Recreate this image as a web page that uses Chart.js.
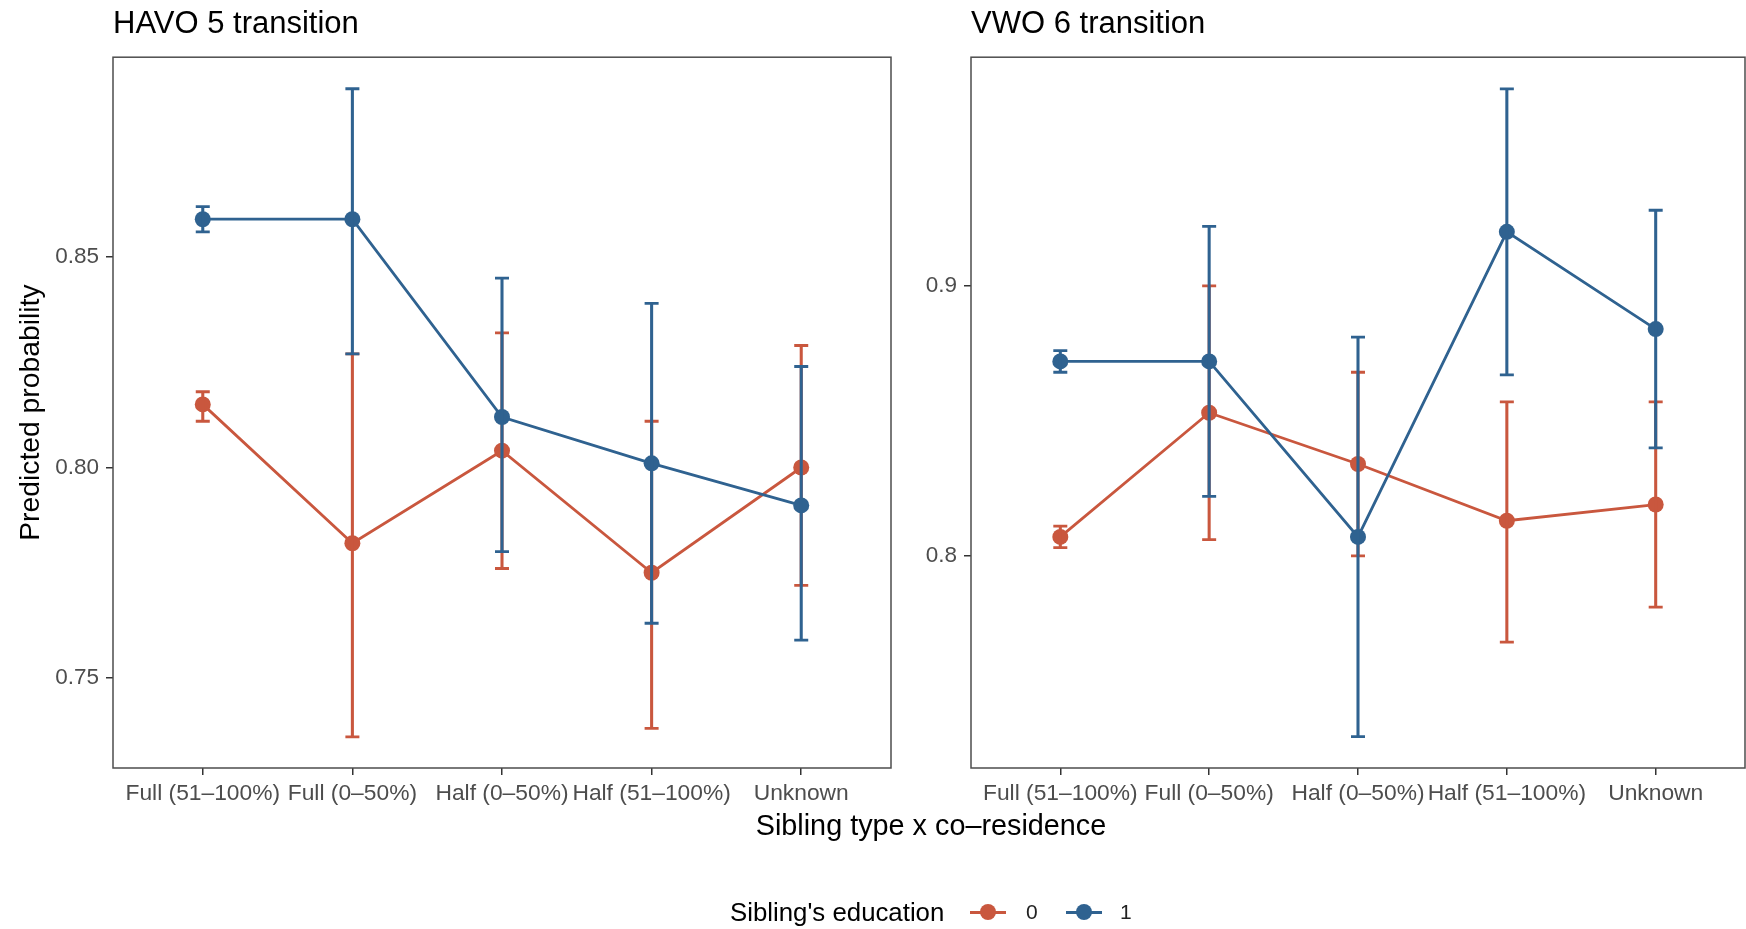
<!DOCTYPE html>
<html>
<head>
<meta charset="utf-8">
<script src="https://cdn.jsdelivr.net/npm/chart.js@4.4.1/dist/chart.umd.min.js"></script>
<style>
  html, body { margin:0; padding:0; background:#fff; }
  body { width:1746px; height:929px; overflow:hidden; position:relative; font-family:"Liberation Sans", Arial, sans-serif; }
  canvas { position:absolute; top:0; }
  #cLeft { left:0; }
  #cRight { left:900px; }
  .txt { position:absolute; white-space:nowrap; color:#000; }
  #xTitle { left:0; width:1862px; text-align:center; top:808px; font-size:28.8px; line-height:34px; }
  #legTitle { left:730px; top:897px; font-size:25.8px; line-height:30px; }
  .legLab { top:899px; font-size:21px; line-height:26px; color:#222; }
  .mark { position:absolute; width:36px; height:16px; top:904px; }
  .mark .ln { position:absolute; left:0; right:0; top:7px; height:2.6px; }
  .mark .pt { position:absolute; left:10px; top:0; width:16px; height:16px; border-radius:50%; }
</style>
</head>
<body>
<canvas id="cLeft" width="900" height="929"></canvas>
<canvas id="cRight" width="846" height="929"></canvas>
<div class="txt" id="xTitle">Sibling type x co–residence</div>
<div class="txt" id="legTitle">Sibling's education</div>
<div class="mark" style="left:970px"><div class="ln" style="background:#C9573E"></div><div class="pt" style="background:#C9573E"></div></div>
<div class="txt legLab" style="left:1026px">0</div>
<div class="mark" style="left:1066px"><div class="ln" style="background:#2F6290"></div><div class="pt" style="background:#2F6290"></div></div>
<div class="txt legLab" style="left:1120px">1</div>
<script>
// ---------- DATA ----------
const categories = ['Full (51–100%)', 'Full (0–50%)', 'Half (0–50%)', 'Half (51–100%)', 'Unknown'];
const seriesNames = ['0', '1'];

// HAVO 5 transition
const havoEdu0   = [0.815, 0.782, 0.804, 0.775, 0.800];
const havoEdu0Lo = [0.811, 0.736, 0.776, 0.738, 0.772];
const havoEdu0Hi = [0.818, 0.827, 0.832, 0.811, 0.829];
const havoEdu1   = [0.859, 0.859, 0.812, 0.801, 0.791];
const havoEdu1Lo = [0.856, 0.827, 0.780, 0.763, 0.759];
const havoEdu1Hi = [0.862, 0.890, 0.845, 0.839, 0.824];
const havoYTicks = [0.75, 0.80, 0.85];
const havoYRange = [0.7286, 0.8975];

// VWO 6 transition
const vwoEdu0   = [0.807, 0.853, 0.834, 0.813, 0.819];
const vwoEdu0Lo = [0.803, 0.806, 0.800, 0.768, 0.781];
const vwoEdu0Hi = [0.811, 0.900, 0.868, 0.857, 0.857];
const vwoEdu1   = [0.872, 0.872, 0.807, 0.920, 0.884];
const vwoEdu1Lo = [0.868, 0.822, 0.733, 0.867, 0.840];
const vwoEdu1Hi = [0.876, 0.922, 0.881, 0.973, 0.928];
const vwoYTicks = [0.8, 0.9];
const vwoYRange = [0.7214, 0.9847];

// ---------- STYLE ----------
const RED = '#C9573E';
const BLUE = '#2F6290';
Chart.defaults.font.family = '"Liberation Sans", Arial, sans-serif';

const panelBorder = {
  id: 'panelBorder',
  afterDatasetsDraw(chart) {
    const {ctx, chartArea: {left, top, right, bottom}} = chart;
    ctx.save();
    ctx.strokeStyle = '#4d4d4d';
    ctx.lineWidth = 1.5;
    ctx.strokeRect(left, top, right - left, bottom - top);
    ctx.restore();
  }
};

function seriesSets(vals, lo, hi, color, base) {
  const pts = arr => arr.map((v, i) => ({x: i, y: v}));
  return [
    { type: 'line', data: pts(vals), borderColor: color, backgroundColor: color,
      borderWidth: 2.8, pointRadius: 8, pointBorderWidth: 0, pointBackgroundColor: color,
      tension: 0, order: base + 3 },
    { type: 'bar', data: lo.map((l, i) => ({x: i, y: [l, hi[i]]})), backgroundColor: color,
      barThickness: 2.4, grouped: false, borderWidth: 0, order: base + 1 },
    { type: 'line', data: pts(lo), showLine: false, pointStyle: 'line', pointRadius: 7,
      pointBorderWidth: 2.8, pointBorderColor: color, borderColor: color, order: base },
    { type: 'line', data: pts(hi), showLine: false, pointStyle: 'line', pointRadius: 7,
      pointBorderWidth: 2.8, pointBorderColor: color, borderColor: color, order: base }
  ];
}

function makePanel(id, title, s0, s1, yRange, yTicks, decimals, yAxisWidth, padRight, showYTitle) {
  const datasets = [
    ...seriesSets(s0[0], s0[1], s0[2], RED, 10),
    ...seriesSets(s1[0], s1[1], s1[2], BLUE, 0)
  ];
  return new Chart(document.getElementById(id), {
    type: 'line',
    data: { datasets },
    plugins: [panelBorder],
    options: {
      responsive: false,
      animation: false,
      events: [],
      layout: { autoPadding: false, padding: { left: 0, right: padRight, top: 0, bottom: 0 } },
      plugins: {
        legend: { display: false },
        tooltip: { enabled: false },
        title: {
          display: true, text: title, align: 'start', fullSize: false,
          color: '#000', font: { size: 31, weight: 'normal' },
          padding: { top: 6, bottom: 14 }
        }
      },
      scales: {
        x: {
          type: 'linear', min: -0.6, max: 4.6, offset: false,
          afterBuildTicks: s => { s.ticks = categories.map((c, i) => ({value: i})); },
          afterFit: s => { s.height = 161; s.paddingLeft = 0; s.paddingRight = 0; },
          ticks: { callback: v => categories[v], autoSkip: false, maxRotation: 0, minRotation: 0,
                   color: '#4D4D4D', font: { size: 22.8 }, padding: 5 },
          grid: { offset: false, drawOnChartArea: false, drawTicks: true, tickLength: 7, color: '#333', lineWidth: 1.5 },
          border: { display: false }
        },
        y: {
          type: 'linear', min: yRange[0], max: yRange[1],
          afterBuildTicks: s => { s.ticks = yTicks.map(v => ({value: v})); },
          afterFit: s => { s.width = yAxisWidth; s.paddingTop = 0; s.paddingBottom = 0; },
          ticks: { callback: v => Number(v).toFixed(decimals), color: '#4D4D4D', font: { size: 22.5 }, padding: 7 },
          grid: { offset: false, drawOnChartArea: false, drawTicks: true, tickLength: 7, color: '#333', lineWidth: 1.5 },
          border: { display: false },
          title: { display: showYTitle, text: 'Predicted probability', color: '#000',
                   font: { size: 28.3 }, padding: { top: 14, bottom: 0 } }
        }
      }
    }
  });
}

makePanel('cLeft', 'HAVO 5 transition',
  [havoEdu0, havoEdu0Lo, havoEdu0Hi], [havoEdu1, havoEdu1Lo, havoEdu1Hi],
  havoYRange, havoYTicks, 2, 113, 9, true);
makePanel('cRight', 'VWO 6 transition',
  [vwoEdu0, vwoEdu0Lo, vwoEdu0Hi], [vwoEdu1, vwoEdu1Lo, vwoEdu1Hi],
  vwoYRange, vwoYTicks, 1, 71, 1, false);
</script>
</body>
</html>
